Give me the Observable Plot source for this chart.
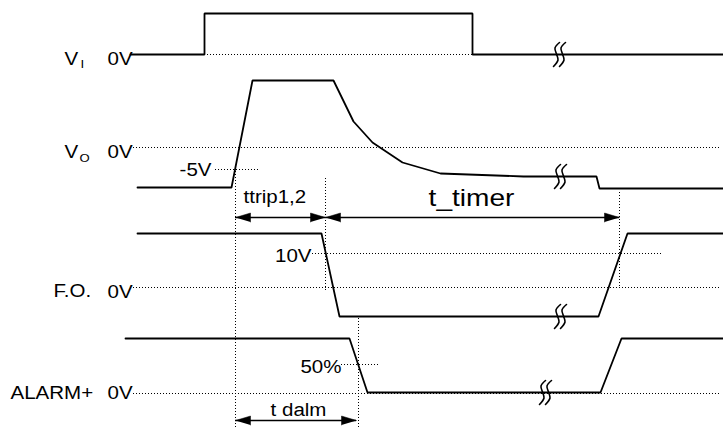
<!DOCTYPE html>
<html><head><meta charset="utf-8">
<script src="https://cdn.jsdelivr.net/npm/d3@7"></script>
<script src="https://cdn.jsdelivr.net/npm/@observablehq/plot@0.6"></script>
<style>body{margin:0;background:#fff} svg{display:block}</style>
</head><body><div id="chart"></div>
<script>
// Waveforms: [time, level] in diagram units
const viWave = [[130,54],[204,54],[204,13],[472,13],[472,54],[723,54]];
const voWave = [[137,187],[231,187],[252,80],[333,80],[353,121],[372,142],[402,162],[440,173],[523,176],[596,176],[599,188],[723,188]];
const foWave = [[137,233],[321,233],[339,316],[598,316],[627,233],[723,233]];
const alarmWave = [[125,338],[349,338],[367,392],[600,392],[621,338],[723,338]];

// Dotted reference levels and time markers
const refLevels = [
  {t1:204,t2:472,v:54},{t1:133,t2:720,v:147},{t1:215,t2:260,v:169},
  {t1:312,t2:663,v:253},{t1:133,t2:720,v:287},{t1:341,t2:380,v:364},{t1:133,t2:720,v:393}
];
const refTimes = [{t:235,v1:171,v2:427},{t:325,v1:178,v2:290},{t:358,v1:318,v2:427},{t:619,v1:192,v2:287}];

// Interval arrows
const spans = [{t1:235,t2:325,v:217},{t1:325,t2:619,v:217},{t1:235,t2:356,v:420}];

// Time-break marks
const breaks = [{t:559,v:54},{t:560,v:176},{t:560,v:316},{t:545,v:392}];

// Labels
const signalNames = [{text:"V",t:64,v:64},{text:"V",t:64,v:157},{text:"F.O.",t:53,v:296},{text:"ALARM+",t:10,v:398}];
const subscripts = [{text:"I",t:80,v:67},{text:"O",t:79,v:161}];
const zeroLabels = [{text:"0V",t:107,v:64},{text:"0V",t:107,v:157},{text:"0V",t:107,v:297},{text:"0V",t:107,v:398}];
const levelLabels = [{text:"-5V",t:211,v:175},{text:"10V",t:311,v:261},{text:"50%",t:341,v:372}];
const intervalLabels = [{text:"ttrip1,2",t:243,v:202},{text:"t dalm",t:298,v:415}];
const timerLabel = [{text:"t_timer",t:471,v:205}];

// derived geometry
const heads = spans.flatMap((s,i) => [
  [[s.t1,s.v],[s.t1+15,s.v-4.5],[s.t1+15,s.v+4.5]].map(p=>({x:p[0],y:p[1],id:"a"+i})),
  [[s.t2,s.v],[s.t2-15,s.v-4.5],[s.t2-15,s.v+4.5]].map(p=>({x:p[0],y:p[1],id:"b"+i}))
]).flat();
const glyph = [[3,-12],[-1.5,-6.5],[0,-0.5],[1.5,5.5],[-3,12]];
const breakPts = breaks.flatMap((b,i) => [-3,3].flatMap((dx,j) =>
  glyph.map(g => ({x:b.t+dx+g[0], y:b.v+g[1], id:i+"-"+j}))));

const font = "'Liberation Sans', Arial, sans-serif";
const P = d=>d[0], Q = d=>d[1];
const txt = (data, opts) => Plot.text(data, {x:"t", y:"v", text:"text", lineAnchor:"bottom", fontFamily:font, fill:"#000", ...opts});
const dotted = {stroke:"#000", strokeWidth:1, strokeDasharray:"1,2", shapeRendering:"crispEdges"};

const el = Plot.plot({
  width:723, height:427, margin:0,
  x:{domain:[0,723], range:[0,723], axis:null},
  y:{domain:[0,427], range:[0,427], axis:null},
  style:{background:"#fff"},
  marks:[
    Plot.ruleY(refLevels, {y:"v", x1:"t1", x2:"t2", ...dotted}),
    Plot.ruleX(refTimes, {x:"t", y1:"v1", y2:"v2", ...dotted}),
    ...[viWave, voWave, foWave, alarmWave].map(w => Plot.line(w, {x:P, y:Q, stroke:"#000", strokeWidth:1.8, strokeLinejoin:"miter"})),
    Plot.ruleY(spans, {y:"v", x1:"t1", x2:"t2", stroke:"#000", strokeWidth:1.6}),
    Plot.line(heads, {x:"x", y:"y", z:"id", fill:"#000", stroke:"#000", strokeWidth:0.5}),
    Plot.line(breakPts, {x:"x", y:"y", z:"id", curve:"catmull-rom", stroke:"#000", strokeWidth:1.6}),
    txt(signalNames, {fontSize:18, textAnchor:"start"}),
    txt(subscripts, {fontSize:11.5, textAnchor:"start"}),
    txt(zeroLabels, {fontSize:18, textAnchor:"start"}),
    txt(levelLabels, {fontSize:18, textAnchor:"end"}),
    txt(intervalLabels.slice(0,1), {fontSize:18, textAnchor:"start"}),
    txt(intervalLabels.slice(1), {fontSize:18, textAnchor:"middle"}),
    txt(timerLabel, {fontSize:24, textAnchor:"middle"})
  ]
});
document.getElementById("chart").append(el);
el.querySelectorAll("text").forEach(t => {
  const L = t.getComputedTextLength();
  const s = t.textContent === "t_timer" ? 1.17 : 1.14;
  t.setAttribute("textLength", (L*s).toFixed(1));
  t.setAttribute("lengthAdjust", "spacingAndGlyphs");
});
</script>
</body></html>
